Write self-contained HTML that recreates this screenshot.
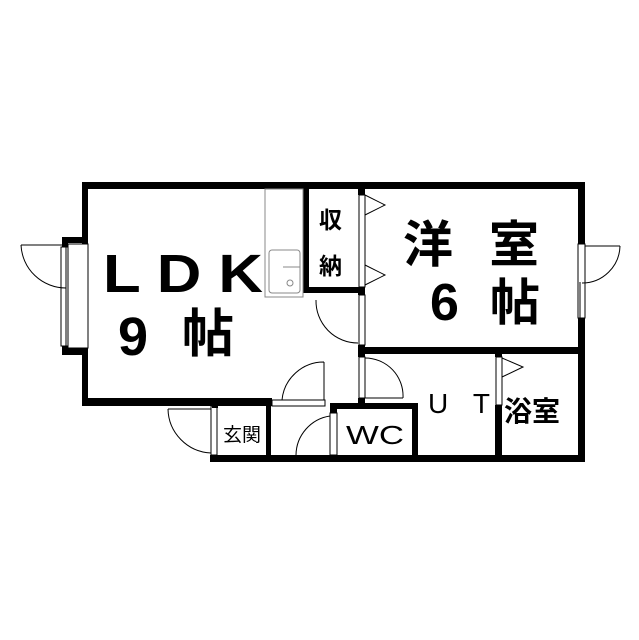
<!DOCTYPE html>
<html><head><meta charset="utf-8"><style>
html,body{margin:0;padding:0;background:#fff;}
svg{display:block}
text{font-family:"Liberation Sans","Noto Sans CJK JP",sans-serif;fill:#000}
.j{font-family:"Noto Sans CJK JP",sans-serif}
</style></head><body>
<svg width="639" height="640" viewBox="0 0 639 640" xmlns="http://www.w3.org/2000/svg">
<g fill="#000">
<rect x="82" y="182" width="503" height="7"/>
<rect x="82" y="182" width="6" height="62"/>
<rect x="82" y="348" width="6" height="58"/>
<rect x="62" y="237" width="26" height="6"/>
<rect x="62" y="348" width="26" height="7"/>
<rect x="62" y="237" width="6" height="10"/>
<rect x="62" y="346" width="6" height="9"/>
<rect x="82" y="398" width="190" height="8"/>
<rect x="578" y="182" width="7" height="62"/>
<rect x="578" y="318" width="7" height="144"/>
<rect x="210" y="455" width="375" height="7"/>
<rect x="303" y="188" width="6" height="105"/>
<rect x="303" y="287" width="62" height="6"/>
<rect x="358" y="182" width="7" height="13"/>
<rect x="358" y="287" width="7" height="8"/>
<rect x="358" y="345" width="7" height="12"/>
<rect x="358" y="347" width="227" height="7"/>
<rect x="358" y="398" width="7" height="10"/>
<rect x="330" y="403" width="88" height="6"/>
<rect x="330" y="403" width="7" height="10"/>
<rect x="412" y="403" width="6" height="59"/>
<rect x="212" y="398" width="6" height="10"/>
<rect x="266" y="406" width="5" height="52"/>
<rect x="495" y="347" width="7" height="10"/>
<rect x="495" y="405" width="7" height="57"/>
</g>
<g fill="none" stroke="#000" stroke-width="1">
<rect x="61" y="247" width="7" height="99"/>
<line x1="66" y1="247" x2="66" y2="346"/>
<rect x="68" y="244" width="20" height="104"/>
<line x1="21" y1="245" x2="62" y2="245"/>
<path d="M21 245 A45 45 0 0 0 66 288"/>
<rect x="578" y="244" width="7" height="74"/>
<line x1="580" y1="282" x2="580" y2="318"/>
<path d="M620 246 A38 38 0 0 1 582 283"/>
<line x1="620" y1="246" x2="585" y2="246"/>
<rect x="265" y="189" width="38" height="108" stroke="#888"/>
<rect x="269" y="250" width="31" height="43" rx="3" stroke="#888"/>
<line x1="283" y1="267" x2="300" y2="267" stroke="#888"/>
<circle cx="290" cy="283" r="3" stroke="#888"/>
<rect x="359" y="195" width="6" height="92"/>
<path d="M365 195 L385 205 L365 215"/>
<path d="M365 265 L385 275 L365 285"/>
<rect x="359" y="295" width="6" height="50"/>
<path d="M316 300 A42 42 0 0 0 358 343"/>
<rect x="359" y="357" width="6" height="41"/>
<path d="M365 358 A38 38 0 0 1 403 398"/>
<line x1="365" y1="398" x2="403" y2="398"/>
<rect x="272" y="400" width="53" height="6"/>
<path d="M324 362 L324 400 M324 362 A42 42 0 0 0 282 400"/>
<rect x="330" y="413" width="7" height="42"/>
<path d="M330 416 A40 40 0 0 0 296 455"/>
<rect x="211" y="406" width="6" height="49"/>
<path d="M168 409 L211 409 M168 409 A45 45 0 0 0 211 453"/>
<rect x="496" y="357" width="6" height="48"/>
<path d="M502 358 L523 367 L502 377"/>
</g>
<text x="103" y="292" font-size="54" font-weight="bold" textLength="160" lengthAdjust="spacingAndGlyphs">L D K</text>
<text x="118" y="355" font-size="54" font-weight="bold">9</text>
<text x="182" y="352" font-size="52" font-weight="bold" class="j">帖</text>
<text x="319" y="228" font-size="23" font-weight="bold" class="j">収</text>
<text x="319" y="274" font-size="23" font-weight="bold" class="j">納</text>
<text x="403" y="262" font-size="50" font-weight="bold" class="j">洋</text>
<text x="489" y="262" font-size="50" font-weight="bold" class="j">室</text>
<text x="430" y="320" font-size="52" font-weight="bold">6</text>
<text x="490" y="320" font-size="50" font-weight="bold" class="j">帖</text>
<text x="223" y="441" font-size="19" class="j">玄関</text>
<text x="346" y="444" font-size="26" textLength="58" lengthAdjust="spacingAndGlyphs">WC</text>
<text x="428" y="413" font-size="28" textLength="62">U T</text>
<text x="504" y="421" font-size="28" font-weight="bold" class="j">浴室</text>
</svg>
</body></html>
